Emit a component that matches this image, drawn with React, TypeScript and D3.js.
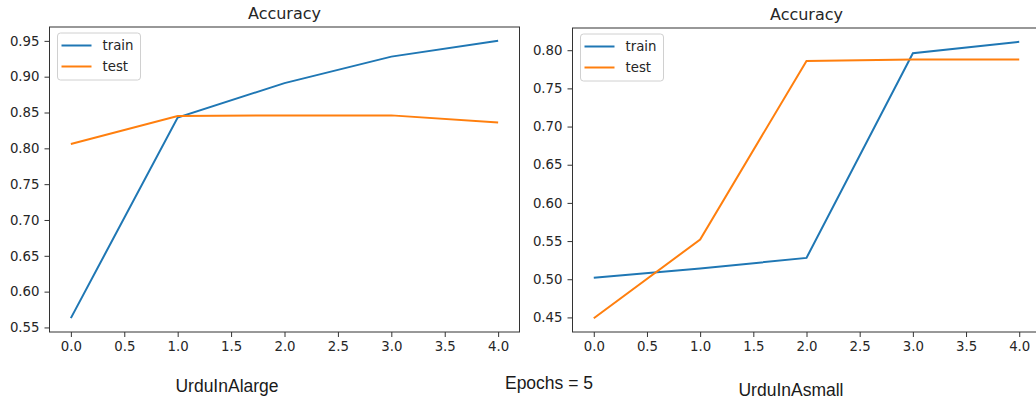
import { useEffect, useRef } from 'react'
import * as d3 from 'd3'

// epochs 0..4
const epochs = [0, 1, 2, 3, 4]
const largeTrain = [0.563, 0.843, 0.891, 0.928, 0.950]
const largeTest = [0.806, 0.845, 0.846, 0.846, 0.836]
const smallTrain = [0.502, 0.514, 0.528, 0.796, 0.811]
const smallTest = [0.449, 0.552, 0.786, 0.788, 0.788]
const xTicks = [0, 0.5, 1, 1.5, 2, 2.5, 3, 3.5, 4]
const largeYTicks = [0.55, 0.6, 0.65, 0.7, 0.75, 0.8, 0.85, 0.9, 0.95]
const smallYTicks = [0.45, 0.5, 0.55, 0.6, 0.65, 0.7, 0.75, 0.8]

const TRAIN = '#1f77b4'
const TEST = '#ff7f0e'
const TICK_FONT = 'DejaVu Sans, sans-serif'

type Panel = {
  left: number
  right: number
  top: number
  bottom: number
  train: number[]
  test: number[]
  yTicks: number[]
}

const panels: Panel[] = [
  { left: 49.5, right: 519.5, top: 27, bottom: 332, train: largeTrain, test: largeTest, yTicks: largeYTicks },
  { left: 572.5, right: 1040.5, top: 28, bottom: 332, train: smallTrain, test: smallTest, yTicks: smallYTicks },
]

export default function App() {
  const svgRef = useRef<SVGSVGElement>(null)

  useEffect(() => {
    if (!svgRef.current) return
    const svg = d3.select(svgRef.current)
    svg.selectAll('*').remove()

    panels.forEach(p => {
      const all = [...p.train, ...p.test]
      const lo = d3.min(all)!
      const hi = d3.max(all)!
      const pad = (hi - lo) * 0.05

      const x = d3.scaleLinear().domain([-0.2, 4.2]).range([p.left, p.right])
      const y = d3.scaleLinear().domain([lo - pad, hi + pad]).range([p.bottom, p.top])

      const g = svg.append('g')

      // lines
      const line = d3.line<number>()
        .x((_, i) => x(epochs[i]))
        .y(d => y(d))

      g.append('path')
        .attr('d', line(p.train))
        .attr('fill', 'none')
        .attr('stroke', TRAIN)
        .attr('stroke-width', 2)
      g.append('path')
        .attr('d', line(p.test))
        .attr('fill', 'none')
        .attr('stroke', TEST)
        .attr('stroke-width', 2)

      // frame
      g.append('rect')
        .attr('x', p.left)
        .attr('y', p.top)
        .attr('width', p.right - p.left)
        .attr('height', p.bottom - p.top)
        .attr('fill', 'none')
        .attr('stroke', '#333')
        .attr('stroke-width', 1)

      // axes
      const xAxis = g.append('g')
        .attr('transform', `translate(0,${p.bottom})`)
        .call(d3.axisBottom(x).tickValues(xTicks).tickFormat(d3.format('.1f')).tickSize(5).tickPadding(5))
      const yAxis = g.append('g')
        .attr('transform', `translate(${p.left},0)`)
        .call(d3.axisLeft(y).tickValues(p.yTicks).tickFormat(d3.format('.2f')).tickSize(5).tickPadding(5))

      for (const a of [xAxis, yAxis]) {
        a.select('.domain').remove()
        a.selectAll('line').attr('stroke', '#333')
        a.selectAll('text')
          .attr('fill', '#262626')
          .style('font-family', TICK_FONT)
          .style('font-size', '13.3px')
      }

      // title, centred on the whole axes box
      g.append('text')
        .attr('x', (p.left + p.right) / 2)
        .attr('y', p.top - 8)
        .attr('text-anchor', 'middle')
        .attr('fill', '#262626')
        .style('font-family', TICK_FONT)
        .style('font-size', '16px')
        .text('Accuracy')

      // legend
      const lg = g.append('g').attr('transform', `translate(${p.left + 8},${p.top + 6})`)
      lg.append('rect')
        .attr('width', 83)
        .attr('height', 47)
        .attr('rx', 3)
        .attr('fill', 'white')
        .attr('fill-opacity', 0.8)
        .attr('stroke', '#d0d0d0')
      const items = [{ name: 'train', color: TRAIN }, { name: 'test', color: TEST }]
      items.forEach((it, i) => {
        const yy = 12.5 + i * 21
        lg.append('line')
          .attr('x1', 4).attr('x2', 34)
          .attr('y1', yy).attr('y2', yy)
          .attr('stroke', it.color)
          .attr('stroke-width', 2)
        lg.append('text')
          .attr('x', 45)
          .attr('y', yy + 4.8)
          .attr('fill', '#262626')
          .style('font-family', TICK_FONT)
          .style('font-size', '13.3px')
          .text(it.name)
      })
    })

    // captions below the panels
    const captions = [
      { text: 'UrduInAlarge', x: 227, y: 392 },
      { text: 'Epochs = 5', x: 549, y: 389 },
      { text: 'UrduInAsmall', x: 791, y: 396 },
    ]
    captions.forEach(c => {
      svg.append('text')
        .attr('x', c.x)
        .attr('y', c.y)
        .attr('text-anchor', 'middle')
        .attr('fill', '#1a1a1a')
        .style('font-family', 'Liberation Sans, Arial, sans-serif')
        .style('font-size', '17.5px')
        .text(c.text)
    })
  }, [])

  return (
    <svg
      ref={svgRef}
      width={1036}
      height={403}
      style={{ position: 'absolute', left: 0, top: 0, background: 'white' }}
    />
  )
}
